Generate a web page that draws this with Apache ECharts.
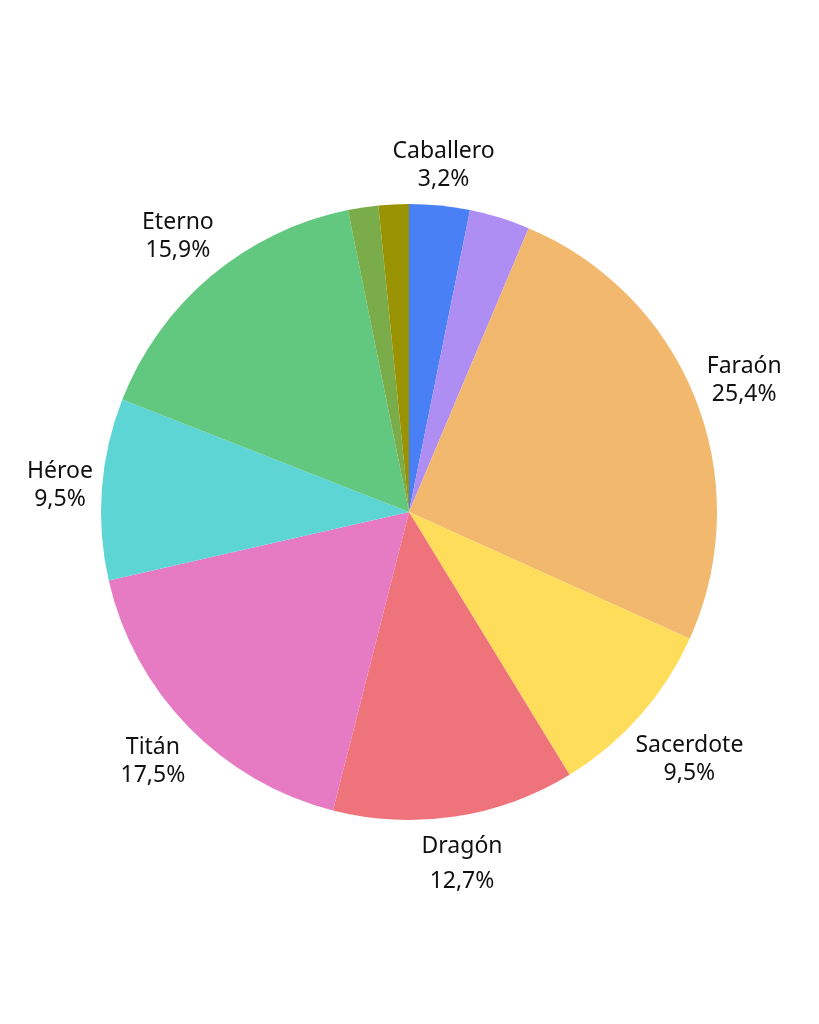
<!DOCTYPE html>
<html>
<head>
<meta charset="utf-8">
<script src="https://cdn.jsdelivr.net/npm/echarts@6/dist/echarts.min.js"></script>
<style>
html,body{margin:0;padding:0;background:#fff;}
#chart{width:819px;height:1024px;}
</style>
</head>
<body>
<div id="chart"></div>
<script>
var categories = ['Caballero', 'Mago', 'Faraón', 'Sacerdote', 'Dragón', 'Titán', 'Héroe', 'Eterno', 'Guardián', 'Nómada'];
var values = [2, 2, 16, 6, 8, 11, 6, 10, 1, 1];
var showLabel = [true, false, true, true, true, true, true, true, false, false];
var colors = ['#4a80f5', '#ae8ef3', '#f2b86e', '#fedd5a', '#ef737b', '#e67ac3', '#5cd5d4', '#62c77f', '#7aac4a', '#999304'];

var total = values.reduce(function (a, b) { return a + b; }, 0);
var cx = 409, cy = 512, R = 308, gap = 7;

function midAngle(i) {
  var s = 0;
  for (var k = 0; k < i; k++) s += values[k];
  return (s + values[i] / 2) / total * 2 * Math.PI;
}

var chart = echarts.init(document.getElementById('chart'), null, { renderer: 'canvas' });
chart.setOption({
  animation: false,
  color: colors,
  series: [{
    type: 'pie',
    center: [cx, cy],
    radius: [0, R],
    startAngle: 90,
    clockwise: true,
    avoidLabelOverlap: false,
    label: {
      show: true,
      position: 'outside',
      formatter: function (p) {
        return p.name + '\n' + (p.value / total * 100).toFixed(1).replace('.', ',') + '%';
      },
      fontFamily: 'Noto Sans',
      fontSize: 23,
      lineHeight: 28,
      color: '#111111',
      align: 'center'
    },
    labelLine: { show: false },
    labelLayout: function (p) {
      var a = midAngle(p.dataIndex);
      var s = Math.sin(a), c = Math.cos(a);
      var w = p.labelRect.width, h = p.labelRect.height;
      var off = R + gap + (w / 2) * Math.abs(s) + (h / 2) * Math.abs(c);
      return { x: cx + off * s, y: cy - off * c, align: 'center', verticalAlign: 'middle' };
    },
    itemStyle: { borderWidth: 0 },
    emphasis: { disabled: true },
    data: categories.map(function (n, i) {
      var lbl = { show: showLabel[i] };
      if (n === 'Dragón') lbl.lineHeight = 35;
      return { name: n, value: values[i], label: lbl };
    })
  }]
});
</script>
</body>
</html>
